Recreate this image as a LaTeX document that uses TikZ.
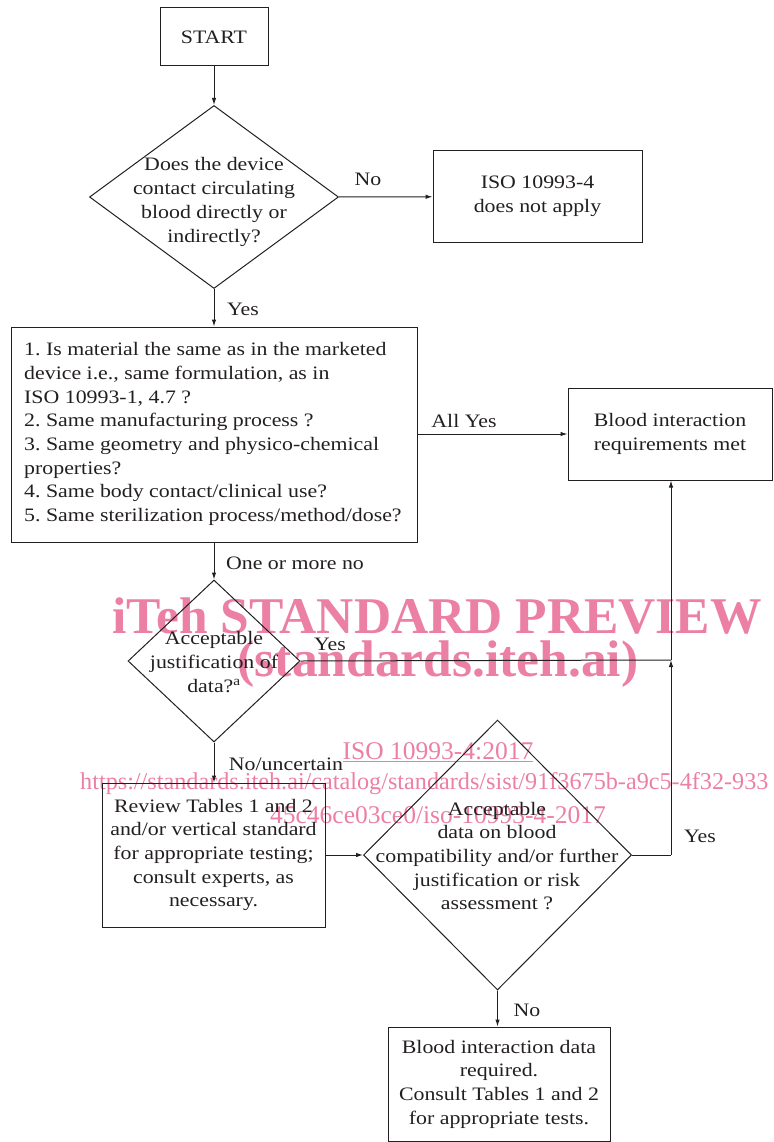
\documentclass[tikz,border=0pt]{standalone}
\usepackage{fontspec}
\setmainfont[FakeStretch=1.15]{Liberation Serif}
\newfontfamily\wmfont{Liberation Serif}
\usetikzlibrary{shapes.geometric,arrows.meta}
\definecolor{ink}{RGB}{35,31,32}
\definecolor{wm}{RGB}{236,128,164}
\tikzset{
  base/.style={font=\fontsize{19}{23.7}\selectfont, text=ink},
  box/.style={base, draw=ink, line width=1pt, align=center, inner sep=0pt},
  dia/.style={draw=ink, line width=1pt, diamond, inner sep=0pt},
  dtext/.style={base, align=center, inner sep=0pt},
  lbl/.style={base, inner sep=0pt},
  arr/.style={draw=ink, line width=1pt, -{Latex[length=7pt,width=4.5pt]}},
  ln/.style={draw=ink, line width=1pt},
  wmbig/.style={text=wm, font=\wmfont\bfseries\fontsize{51.5}{60}\selectfont, inner sep=0pt},
  wmsmall/.style={text=wm, font=\wmfont\fontsize{25.5}{30}\selectfont, inner sep=0pt},
}
\begin{document}
\frenchspacing
\begin{tikzpicture}[x=1pt,y=-1pt]
\useasboundingbox (0,0) rectangle (773,1142);
% watermark
\node[wmbig] (wm1) at (437,616) {iTeh STANDARD PREVIEW};
\node[wmbig] (wm2) at (438,664) {(standards.iteh.ai)};
\node[wmsmall] (wm3) at (438,752) {\underline{ISO 10993-4:2017}};
\node[wmsmall, font=\wmfont\fontsize{24.2}{30}\selectfont, anchor=west] (wm4) at (80,784) {https://standards.iteh.ai/catalog/standards/sist/91f3675b-a9c5-4f32-933};
\node[wmsmall] (wm5) at (438,815) {45c46ce03ce0/iso-10993-4-2017};

% nodes
\node[box, minimum width=108, minimum height=58] (start) at (214,37) {START};
\node[dia, minimum width=249, minimum height=183] (d1) at (214,197) {};
\node[dtext] (d1t) at (214,202) {Does the device\\contact circulating\\blood directly or\\indirectly?};
\node[box, minimum width=209, minimum height=91] (na) at (537.5,196.5) {ISO 10993-4\\does not apply};
\node[box, minimum width=406, minimum height=215] (q) at (214,434.5) {};
\node[base, align=left, anchor=west, inner sep=0pt] (qt) at (24,434) {1. Is material the same as in the marketed\\device i.e., same formulation, as in\\ISO 10993-1, 4.7 ?\\2. Same manufacturing process ?\\3. Same geometry and physico-chemical\\properties?\\4. Same body contact/clinical use?\\5. Same sterilization process/method/dose?};
\node[box, minimum width=204, minimum height=92] (met) at (670,434) {Blood interaction\\requirements met};
\node[dia, minimum width=172, minimum height=162] (d2) at (214,661) {};
\node[dtext] (d2t) at (214,662) {Acceptable\\justification of\\data?\textsuperscript{a}};
\node[box, minimum width=223, minimum height=144] (rev) at (213.5,855) {Review Tables 1 and 2\\and/or vertical standard\\for appropriate testing;\\consult experts, as\\necessary.};
\node[dia, minimum width=268, minimum height=270] (d3) at (497.5,855) {};
\node[dtext] (d3t) at (497,856) {Acceptable\\data on blood\\compatibility and/or further\\justification or risk\\assessment ?};
\node[box, minimum width=222, minimum height=114] (req) at (499,1084) {Blood interaction data\\required.\\Consult Tables 1 and 2\\for appropriate tests.};
\coordinate (j1) at (671,660);
\coordinate (j2) at (671,855);

% connectors
\draw[arr] (start) -- (d1);
\draw[arr] (d1.east) -- (na);
\draw[arr] (d1.south) -- (q);
\draw[arr] (q.east |- met.west) -- (met.west);
\draw[arr] (q.south) -- (d2.north);
\draw[ln] (d2.east) -- (j1);
\draw[arr] (j1) -- (met.south -| j1);
\draw[arr] (d2.south) -- (rev.north -| d2.south);
\draw[arr] (rev.east) -- (d3.west);
\draw[ln] (d3.east) -- (j2);
\draw[arr] (j2) -- (j1);
\draw[arr] (d3.south) -- (req.north -| d3.south);

% labels
\node[lbl] at (368,179) {No};
\node[lbl] at (243,309) {Yes};
\node[lbl] at (464,421) {All Yes};
\node[lbl] at (295,563) {One or more no};
\node[lbl] at (330,644) {Yes};
\node[lbl] at (286,764) {No/uncertain};
\node[lbl] at (700,836) {Yes};
\node[lbl] at (527,1010) {No};
\end{tikzpicture}
\end{document}
